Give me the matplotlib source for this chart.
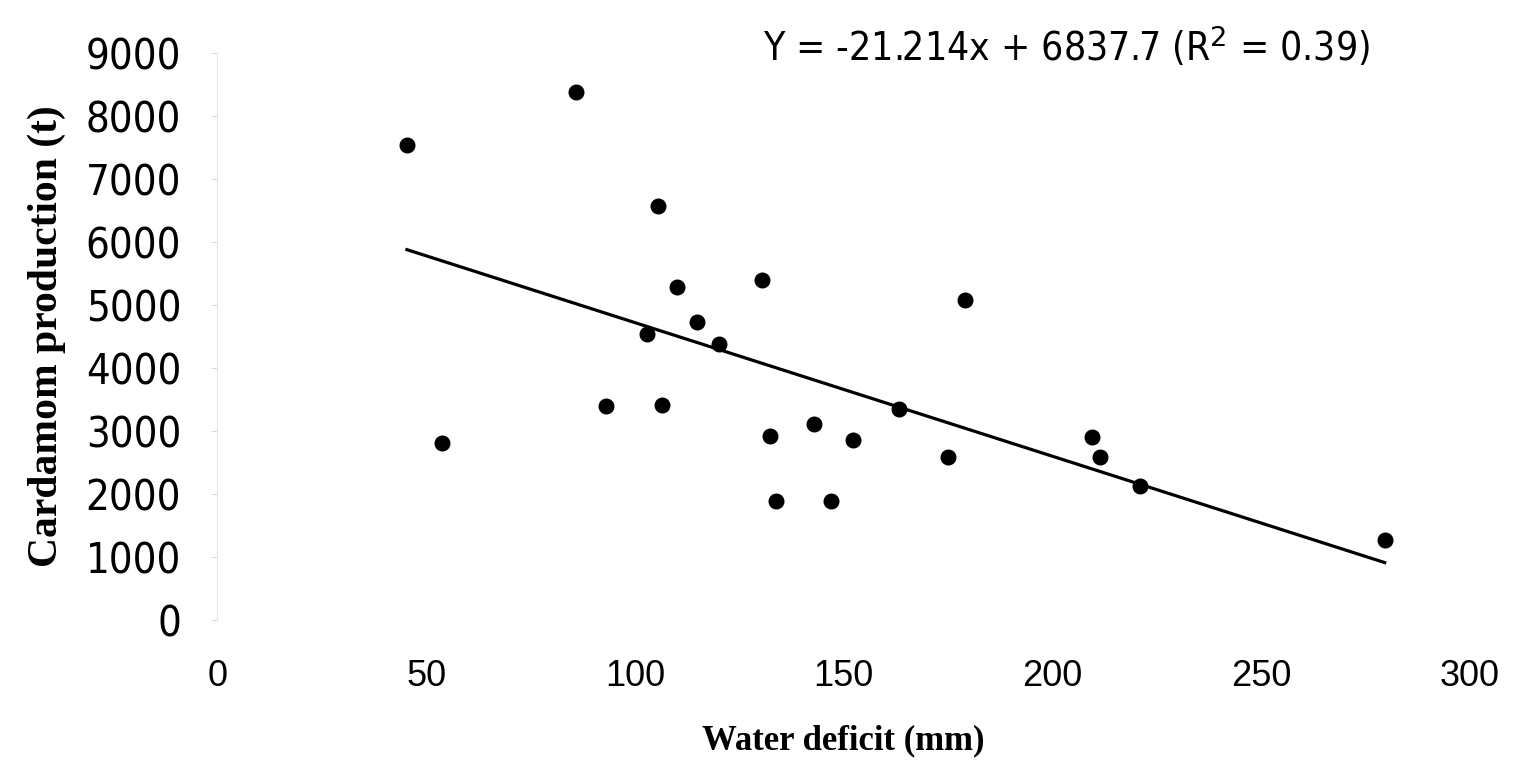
import matplotlib.pyplot as plt
import numpy as np
from matplotlib import font_manager

# water deficit (mm) and cardamom production (t)
water_deficit = [45.4, 86.0, 53.9, 93.1, 106.4, 105.5, 110.0, 115.0, 120.2, 102.9,
                 130.5, 132.4, 133.8, 142.9, 147.1, 152.2, 163.3, 174.9, 179.0,
                 209.4, 211.3, 220.9, 279.6]
production = [7530, 8380, 2800, 3400, 3410, 6570, 5280, 4730, 4380, 4540,
              5390, 2910, 1890, 3100, 1890, 2850, 3340, 2580, 5080,
              2900, 2580, 2120, 1270]

slope = -21.214
intercept = 6837.7
r_squared = 0.39

x_ticks = [0, 50, 100, 150, 200, 250, 300]
y_ticks = [0, 1000, 2000, 3000, 4000, 5000, 6000, 7000, 8000, 9000]

# condensed face for the narrow digits of the scan
narrow = font_manager.FontProperties(family="DejaVu Sans", stretch="condensed", size=30)

fig = plt.figure(figsize=(15.2, 7.65), dpi=100)
ax = fig.add_axes([0.143, 0.19, 0.824, 0.741])

ax.plot(water_deficit, production, "o", color="black", markersize=10.5, zorder=3)

xs = np.array([min(water_deficit), max(water_deficit)])
ax.plot(xs, slope * xs + intercept, color="black", linewidth=2.3, zorder=2)

ax.set_xlim(0, 300)
ax.set_ylim(0, 9000)
ax.set_xticks(x_ticks)
ax.set_yticks(y_ticks)

for s in ["top", "right", "bottom"]:
    ax.spines[s].set_visible(False)
ax.spines["left"].set_color("#e6e6e6")
ax.tick_params(axis="y", length=4, color="#dddddd", pad=22)
ax.tick_params(axis="x", length=0, pad=28)

for lab in ax.get_yticklabels():
    lab.set_fontproperties(narrow)
for lab in ax.get_xticklabels():
    lab.set_fontfamily("Liberation Sans")
    lab.set_fontsize(26)

ax.set_xlabel("Water deficit (mm)", fontsize=25, fontweight="bold",
              family="Liberation Serif", labelpad=22)
ax.set_ylabel("Cardamom production (t)", fontsize=30, fontweight="bold",
              family="Liberation Serif", labelpad=14)

ax.text(0.92, 1.01, f"Y = {slope}x + {intercept} (R$^2$ = {r_squared})",
        transform=ax.transAxes, ha="right", va="center",
        fontproperties=font_manager.FontProperties(family="DejaVu Sans",
                                                   stretch="condensed", size=28))

fig.savefig("out.png", dpi=100)
